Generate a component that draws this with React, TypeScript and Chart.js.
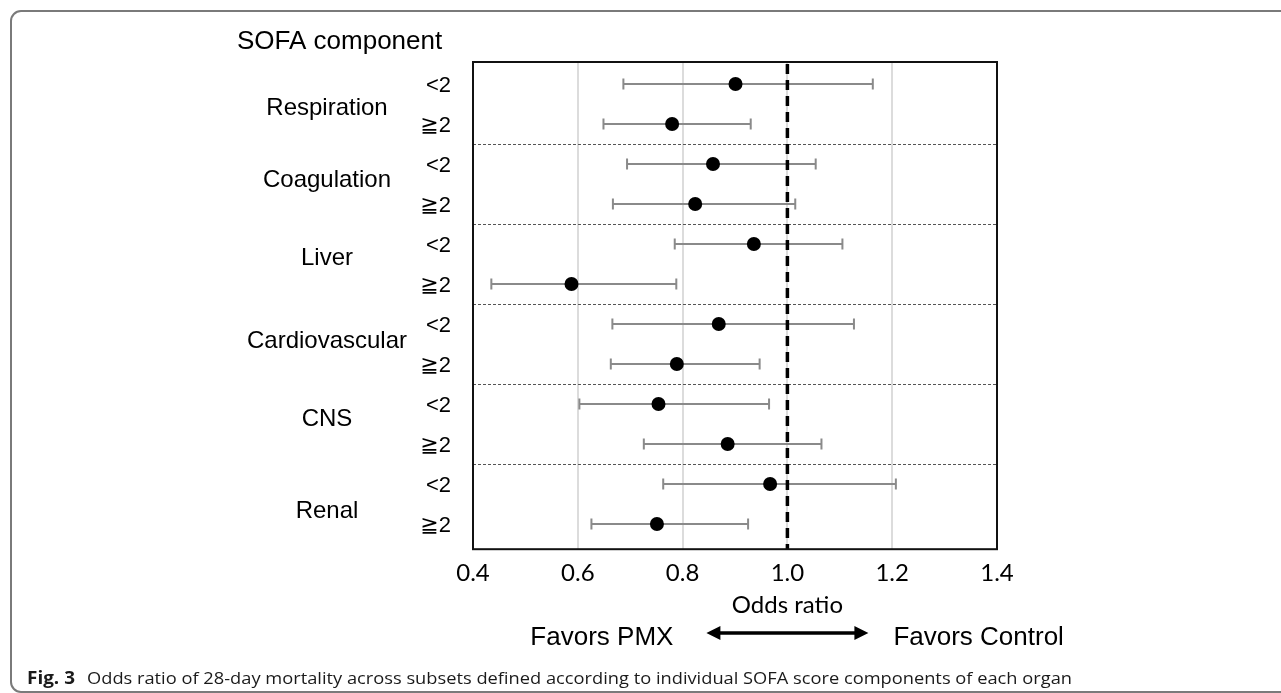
import React, { useEffect, useRef } from "react";
import { Chart, registerables } from "chart.js";

Chart.register(...registerables);

// ---------------- data ----------------
const groups = ["Respiration", "Coagulation", "Liver", "Cardiovascular", "CNS", "Renal"];
const subgroups = ["<2", "≧2"];
const oddsRatio = [0.901, 0.780, 0.858, 0.824, 0.936, 0.588, 0.869, 0.789, 0.754, 0.886, 0.967, 0.751];
const ciLower = [0.687, 0.649, 0.694, 0.667, 0.785, 0.435, 0.666, 0.663, 0.603, 0.726, 0.763, 0.626];
const ciUpper = [1.163, 0.930, 1.054, 1.015, 1.105, 0.788, 1.127, 0.947, 0.965, 1.065, 1.207, 0.925];
const xTickValues = [0.4, 0.6, 0.8, 1.0, 1.2, 1.4];
const referenceOR = 1.0;

const axisTitle = "Odds ratio";
const leftNote = "Favors PMX";
const rightNote = "Favors Control";
const headerText = "SOFA component";
const captionBold = "Fig. 3";
const captionText =
  "Odds ratio of 28-day mortality across subsets defined according to individual SOFA score components of each organ";

// ---------------- layout (pixels) ----------------
const groupLabelNudge = [4, -4, -6, -3, -5, 7];
const ARIAL = "'Liberation Sans', Arial, 'DejaVu Sans', sans-serif";
const CALIBRI = "Lato, 'Open Sans', sans-serif";

function fitText(ctx: CanvasRenderingContext2D, text: string, x: number, y: number, width: number) {
  const w = ctx.measureText(text).width;
  ctx.save();
  ctx.translate(x, y);
  ctx.scale(width / w, 1);
  ctx.fillText(text, 0, 0);
  ctx.restore();
}

const forestPlugin = {
  id: "forest",
  beforeDatasetsDraw(chart: any) {
    const { ctx, chartArea: a } = chart;
    const x = chart.scales.x;
    const y = chart.scales.y;
    ctx.save();
    // group separators
    ctx.strokeStyle = "#555";
    ctx.lineWidth = 1;
    ctx.setLineDash([3, 2]);
    for (let g = 1; g < groups.length; g++) {
      const py = Math.round(y.getPixelForValue(g * 2 - 0.5)) + 0.5;
      ctx.beginPath();
      ctx.moveTo(a.left, py);
      ctx.lineTo(a.right, py);
      ctx.stroke();
    }
    // confidence intervals
    ctx.setLineDash([]);
    ctx.strokeStyle = "#8a8a8a";
    ctx.lineWidth = 2;
    for (let i = 0; i < oddsRatio.length; i++) {
      const py = y.getPixelForValue(i);
      const x1 = x.getPixelForValue(ciLower[i]);
      const x2 = x.getPixelForValue(ciUpper[i]);
      ctx.beginPath();
      ctx.moveTo(x1, py);
      ctx.lineTo(x2, py);
      ctx.moveTo(x1, py - 5.5);
      ctx.lineTo(x1, py + 5.5);
      ctx.moveTo(x2, py - 5.5);
      ctx.lineTo(x2, py + 5.5);
      ctx.stroke();
    }
    // reference line at OR = 1
    const rx = x.getPixelForValue(referenceOR);
    ctx.strokeStyle = "#000";
    ctx.lineWidth = 3.5;
    ctx.setLineDash([10, 6]);
    ctx.beginPath();
    ctx.moveTo(rx, a.top + 2);
    ctx.lineTo(rx, a.bottom);
    ctx.stroke();
    ctx.restore();
  },
  afterDraw(chart: any) {
    const { ctx, chartArea: a } = chart;
    const x = chart.scales.x;
    const y = chart.scales.y;
    ctx.save();
    // plot frame
    ctx.strokeStyle = "#111";
    ctx.lineWidth = 2;
    ctx.strokeRect(a.left, a.top, a.right - a.left, a.bottom - a.top);

    // outer figure frame
    ctx.strokeStyle = "#7a7a7a";
    ctx.lineWidth = 2;
    ctx.beginPath();
    ctx.moveTo(1300, 11);
    ctx.lineTo(21, 11);
    ctx.arcTo(11, 11, 11, 21, 10);
    ctx.lineTo(11, 682);
    ctx.arcTo(11, 692, 21, 692, 10);
    ctx.lineTo(1300, 692);
    ctx.stroke();

    ctx.fillStyle = "#000";
    ctx.textBaseline = "middle";

    // header
    ctx.font = `26px ${ARIAL}`;
    ctx.textAlign = "left";
    ctx.fillText(headerText, 237, 42);

    // group labels
    ctx.font = `24px ${ARIAL}`;
    ctx.textAlign = "center";
    groups.forEach((g, k) => {
      const py = y.getPixelForValue(2 * k + 0.5) + groupLabelNudge[k];
      ctx.fillText(g, 327, py);
    });

    // subgroup labels
    ctx.font = `22px ${ARIAL}`;
    ctx.textAlign = "right";
    for (let i = 0; i < oddsRatio.length; i++) {
      ctx.fillText(subgroups[i % 2], 451, y.getPixelForValue(i) + 2);
    }

    // axis title centred on OR = 1
    const rx = x.getPixelForValue(referenceOR);
    ctx.font = `24px ${CALIBRI}`;
    ctx.textAlign = "center";
    ctx.fillText(axisTitle, rx, 605);

    // double-headed arrow
    const ay = 633;
    const ax1 = rx - 81;
    const ax2 = rx + 81;
    ctx.strokeStyle = "#000";
    ctx.lineWidth = 3.5;
    ctx.beginPath();
    ctx.moveTo(ax1 + 10, ay);
    ctx.lineTo(ax2 - 10, ay);
    ctx.stroke();
    ctx.beginPath();
    ctx.moveTo(ax1, ay);
    ctx.lineTo(ax1 + 14, ay - 7);
    ctx.lineTo(ax1 + 14, ay + 7);
    ctx.closePath();
    ctx.moveTo(ax2, ay);
    ctx.lineTo(ax2 - 14, ay - 7);
    ctx.lineTo(ax2 - 14, ay + 7);
    ctx.closePath();
    ctx.fill();

    ctx.font = `26px ${ARIAL}`;
    ctx.textAlign = "right";
    ctx.fillText(leftNote, ax1 - 33, 638);
    ctx.textAlign = "left";
    ctx.fillText(rightNote, ax2 + 25, 638);

    // caption
    ctx.fillStyle = "#1a1a1a";
    ctx.textAlign = "left";
    ctx.font = `bold 17px 'Open Sans', sans-serif`;
    fitText(ctx, captionBold, 27, 679, 48);
    ctx.font = `17px 'Open Sans', sans-serif`;
    fitText(ctx, captionText, 87, 679, 985);
    ctx.restore();
  },
};

export default function App() {
  const canvasRef = useRef<HTMLCanvasElement | null>(null);

  useEffect(() => {
    const canvas = canvasRef.current;
    if (!canvas) return;
    const chart = new Chart(canvas, {
      type: "scatter",
      data: {
        datasets: [
          {
            label: "Odds ratio",
            data: oddsRatio.map((v, i) => ({ x: v, y: i })),
            backgroundColor: "#000",
            borderColor: "#000",
            pointRadius: 7,
            pointHoverRadius: 7,
            borderWidth: 0,
          },
        ],
      },
      options: {
        animation: false,
        responsive: false,
        devicePixelRatio: 1,
        events: [],
        layout: { padding: { left: 473, right: 284, top: 62, bottom: 95 } },
        plugins: { legend: { display: false }, tooltip: { enabled: false } },
        scales: {
          x: {
            type: "linear",
            min: 0.4,
            max: 1.4,
            afterBuildTicks: (scale: any) => {
              scale.ticks = xTickValues.map((v) => ({ value: v }));
            },
            ticks: {
              callback: (v: any) => Number(v).toFixed(1),
              color: "#000",
              font: { family: CALIBRI, size: 24 },
              padding: 10,
            },
            grid: { color: "#dcdcdc", lineWidth: 2, drawTicks: false },
            border: { display: false },
          },
          y: {
            type: "linear",
            display: false,
            reverse: true,
            min: -0.55,
            max: 11.63,
          },
        },
      },
      plugins: [forestPlugin],
    });
    return () => chart.destroy();
  }, []);

  return (
    <div
      style={{
        position: "fixed",
        left: 0,
        top: 0,
        width: 1281,
        height: 693,
        overflow: "hidden",
        background: "#fff",
      }}
    >
      <canvas ref={canvasRef} width={1281} height={693} style={{ display: "block" }} />
    </div>
  );
}
